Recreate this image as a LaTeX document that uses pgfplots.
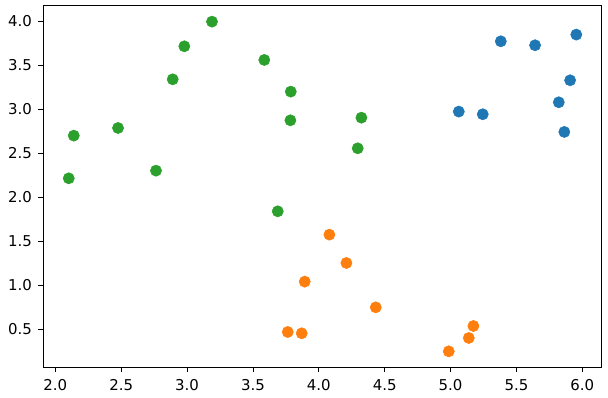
\documentclass[border=0pt]{standalone}
\usepackage{fontspec}
\setmainfont{DejaVu Sans}
\usepackage{pgfplots}
\pgfplotsset{compat=1.18}
\definecolor{tabblue}{HTML}{1F77B4}
\definecolor{taborange}{HTML}{FF7F0E}
\definecolor{tabgreen}{HTML}{2CA02C}
\begin{document}
\begin{tikzpicture}
\begin{axis}[
  scale only axis,
  width=418.8pt, height=271.35pt,
  xmin=1.909, xmax=6.147, ymin=0.065, ymax=4.176,
  xtick={2.0,2.5,3.0,3.5,4.0,4.5,5.0,5.5,6.0},
  ytick={0.5,1.0,1.5,2.0,2.5,3.0,3.5,4.0},
  tick pos=left, tick align=outside,
  major tick length=3.65pt,
  tick style={black, line width=0.6pt},
  axis line style={black, line width=0.6pt},
  /pgf/number format/assume math mode=true,
  /pgf/number format/.cd, fixed, fixed zerofill, precision=1, /pgfplots/.cd,
  ticklabel style={font=\fontsize{11.2pt}{13pt}\selectfont, text=black},
  xticklabel style={yshift=-1.8pt},
  yticklabel style={xshift=-1.5pt},
]
\addplot[only marks, mark=*, mark size=4.2pt, color=tabblue, mark options={draw=tabblue, fill=tabblue}] coordinates {
(5.062,2.970) (5.244,2.940) (5.381,3.769) (5.641,3.724) (5.954,3.845)
(5.907,3.326) (5.821,3.076) (5.863,2.739)
};
\addplot[only marks, mark=*, mark size=4.2pt, color=taborange, mark options={draw=taborange, fill=taborange}] coordinates {
(4.080,1.572) (4.209,1.250) (3.893,1.038) (4.432,0.746) (3.764,0.466)
(3.870,0.451) (4.986,0.246) (5.138,0.398) (5.173,0.534)
};
\addplot[only marks, mark=*, mark size=4.2pt, color=tabgreen, mark options={draw=tabgreen, fill=tabgreen}] coordinates {
(2.102,2.212) (2.140,2.697) (2.476,2.784) (2.764,2.299) (2.891,3.337)
(2.979,3.712) (3.189,3.992) (3.586,3.557) (3.787,3.197) (3.784,2.871)
(4.323,2.901) (4.295,2.553) (3.688,1.837)
};
\end{axis}
\pgfresetboundingbox
\path ([shift={(-32.5pt,-23pt)}]current axis.south west) rectangle ([shift={(4.7pt,4.1pt)}]current axis.north east);
\end{tikzpicture}
\end{document}
